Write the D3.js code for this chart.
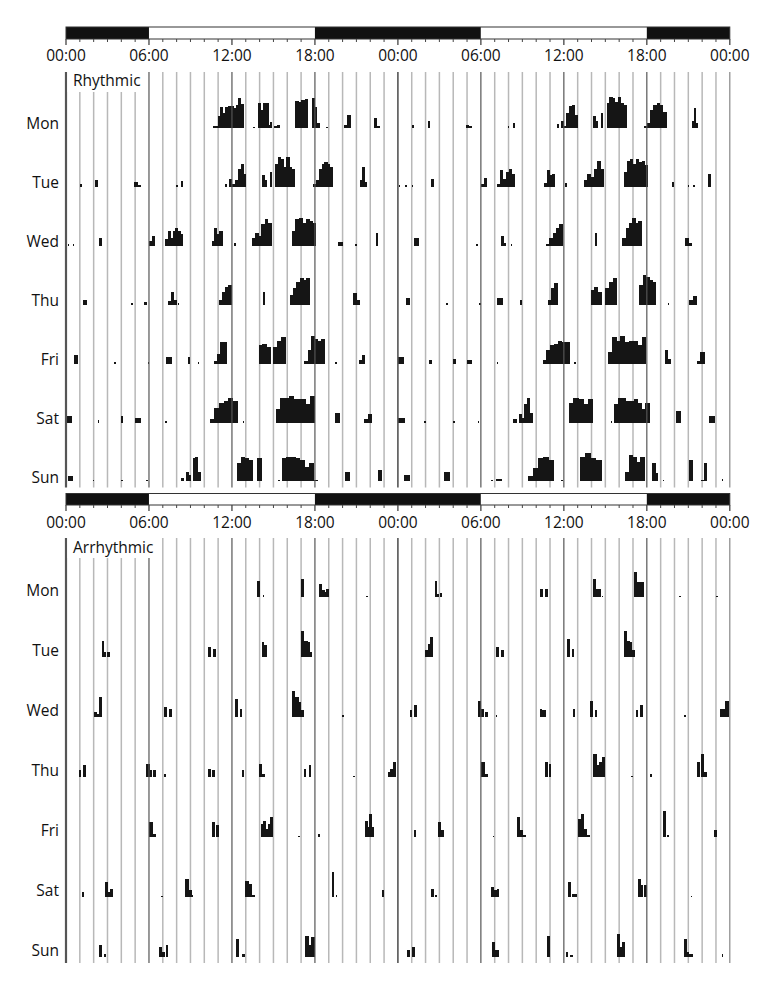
<!DOCTYPE html>
<html>
<head>
<meta charset="utf-8">
<script src="https://cdn.jsdelivr.net/npm/d3@7"></script>
<style>
  html, body { margin: 0; padding: 0; background: #fff; }
  svg { display: block; }
  text { font-family: "Open Sans", "Noto Sans", sans-serif; fill: #111; }
</style>
</head>
<body>
<svg id="chart" width="775" height="991"></svg>
<script>
// ---------------- DATA ----------------
const days = ["Mon", "Tue", "Wed", "Thu", "Fri", "Sat", "Sun"];
const tickLabels = ["00:00", "06:00", "12:00", "18:00", "00:00", "06:00", "12:00", "18:00", "00:00"];
const tickHours = [0, 6, 12, 18, 24, 30, 36, 42, 48];
const panelTitles = ["Rhythmic", "Arrhythmic"];
// light/dark schedule: [start hour, end hour, isDark]
const lightDark = [[0, 6, 1], [6, 18, 0], [18, 30, 1], [30, 42, 0], [42, 48, 1]];

// Activity bouts: [start hour, end hour, counts per equal sub-bin...]
const rMon = [[10.6,12.82,5,5,35,65,45,65,68,68,60,70,92,72],[13.5,13.6,3],[13.9,14.6,75,55,75,75],[14.6,14.85,10,18],[15.05,15.4,6,10],
  [16.58,17.47,82,80,85,88],[17.78,18.3,90,65,15],[18.78,18.88,3],[20.1,20.55,10,40],[22.3,22.65,30,5],
  [25.0,25.1,8],[26.15,26.3,20],[28.9,29.35,10,5],[31.93,32.0,5],[32.3,32.45,15],[35.47,35.6,12],[35.79,36.15,20,5],
  [36.15,37.0,45,68,70,40],[38.1,38.44,35,20],[38.68,38.8,45],[39.09,40.49,75,95,90,80,95,75,70],
  [41.8,43.38,5,15,55,70,75,70,50],[45.26,45.67,20,60,15]];
const rTue = [[1.0,1.1,8],[2.12,2.3,20],[4.94,5.35,15,5],[7.95,8.05,5],[8.3,8.45,18],[11.5,11.62,10],[11.8,11.98,25],[11.98,12.24,8],
  [12.24,13.0,20,55,70,40],[14.17,14.5,35,20],[14.75,14.87,45],[15.13,16.53,70,90,85,60,90,60,55],
  [17.88,19.28,8,20,55,70,75,70,60],[21.25,21.7,20,60,15],
  [24.05,24.12,5],[24.53,24.6,5],[25.0,25.08,5],[26.4,26.55,25],[30.0,30.4,10,28],[31.14,32.44,10,50,25,45,55,40],
  [34.58,35.3,12,50,35,40],[36.1,36.22,12],[37.47,38.85,20,40,30,55,80,55],[40.32,42.05,45,80,85,70,85,75,80,65],
  [43.8,43.95,15],[44.95,45.02,3],[45.35,45.42,3],[46.4,46.6,40]];
const rWed = [[0.12,0.2,3],[0.48,0.55,3],[2.4,2.55,25],[5.98,6.39,15,30],[7.18,8.43,20,45,25,45,55,45,35],[10.53,11.28,15,55,35,45],
  [12.12,12.25,10],[13.45,14.82,25,40,30,65,80,70],[16.34,18.07,45,80,85,70,80,75,70],[19.7,20.0,12],[20.9,20.97,3],[22.4,22.55,40],
  [25.18,25.5,25],[29.64,29.72,5],[31.45,31.8,30,8],[32.17,32.24,3],[34.7,35.9,5,25,40,55,65],[38.22,38.36,40],
  [40.24,41.6,25,55,70,85,70,75],[44.77,45.2,25,10]];
const rThu = [[1.2,1.5,15],[4.7,4.77,3],[5.66,5.78,8],[7.35,8.0,10,40,15],[8.07,8.14,3],[11.04,11.93,15,40,55,60],[14.22,14.36,40],
  [16.2,17.6,30,50,70,80,75,80],[20.77,21.2,35,15],
  [24.6,24.82,20],[27.47,27.55,3],[29.88,29.95,3],[31.2,31.57,20],[32.8,32.92,15],[34.82,35.55,15,50,65],[37.96,38.68,45,55,40],
  [39.0,39.8,50,70,80],[41.45,42.65,60,90,85,75,70],[43.5,43.57,3],[45.07,45.55,15,25]];
const rFri = [[0.6,0.85,25],[3.5,3.58,5],[5.9,5.97,5],[7.23,7.6,20],[8.8,8.92,20],[9.52,9.58,3],[10.72,11.57,8,30,65,65],
  [13.93,14.75,55,60,50],[14.99,15.86,50,70,80],[17.23,18.67,8,40,85,75,70,75],[19.47,19.54,5],[21.2,21.57,10,25],
  [24.0,24.4,20],[26.27,26.4,10],[28.0,28.14,15],[28.97,29.35,10],[31.13,31.2,5],[34.46,36.4,10,40,55,60,70,65,65],[36.75,36.82,3],
  [39.16,41.93,35,80,70,85,65,70,70,55,80],[43.33,43.67,40,15],[45.6,46.15,8,35]];
const rSat = [[0,0.36,20],[2.29,2.36,8],[3.98,4.1,20],[5.0,5.35,15],[7.18,7.25,5],[10.4,12.4,10,45,60,65,75,65],[12.77,12.84,3],
  [15.18,17.95,40,75,75,80,70,70,70,55,80],[19.47,19.76,30],[21.57,22.1,10,25],
  [24.0,24.46,15],[25.91,25.98,3],[28.0,28.07,5],[29.76,29.83,3],[32.34,33.69,10,0,25,15,55,75,30],[36.34,38.08,60,75,70,55,70],
  [39.4,39.47,3],[39.64,42.17,55,75,75,65,65,70,60,40,60],[44.1,44.46,35],[46.51,46.87,20]];
const rSun = [[0.12,0.48,15],[1.93,2.0,3],[3.98,4.05,3],[5.78,5.85,3],[8.31,9.69,10,0,30,20,0,70,75,30],[12.34,14.1,55,75,70,65,0,70],
  [15.33,15.4,3],[15.61,18.2,70,75,75,70,65,45,55,5],[20.19,20.48,30],[22.53,22.84,35],
  [24.46,24.82,20],[27.35,27.72,30],[30.73,30.8,3],[31.09,31.52,8],[33.38,35.23,15,40,70,75,65],[35.79,35.86,3],
  [37.19,38.68,75,85,70,65],[40.44,41.81,30,80,75,60,75],[42.41,42.78,55,25],[43.14,43.21,3],[45.07,45.26,65],
  [45.9,46.32,5,55],[47.43,47.5,8]];

const aMon = [[13.84,14.0,50],[14.22,14.3,5],[17.0,17.15,55],[18.32,19.0,40,20,15,25],[21.72,21.8,3],[26.65,27.15,50,10,0,12],
  [34.3,34.46,25],[34.67,34.8,25],[38.13,38.66,55,25,25],[38.75,38.82,3],[41.04,41.72,75,45,45],[44.33,44.4,3],[47.0,47.07,3]];
const aTue = [[2.6,3.12,50,15,0,15],[10.26,10.41,30],[10.66,10.78,25],[14.15,14.52,45,35,35],[17.0,17.77,80,50,50,45,15],
  [25.97,26.52,20,40,60],[31.09,31.24,30],[31.48,31.6,20],[36.23,36.38,55],[36.6,36.7,25],[40.37,41.1,80,50,45,20]];
const aWed = [[1.99,2.57,15,10,60],[7.1,7.23,30],[7.47,7.6,25],[12.25,12.38,55],[12.56,12.68,25],[16.32,17.15,80,60,60,45,20],
  [19.97,20.04,5],[24.9,25.0,20],[25.2,25.36,35],[29.77,30.17,50,25],[30.32,30.45,15],[31.08,31.15,5],[34.24,34.37,25],
  [34.45,34.67,20],[36.69,36.78,25],[37.92,38.05,50],[38.22,38.35,20],[41.2,41.35,20],[41.53,41.65,35],[44.7,44.77,5],
  [47.26,47.87,25,25,50]];
const aThu = [[0.92,1.04,20],[1.22,1.38,35],[5.82,6.19,40,20],[6.31,6.43,20],[7.1,7.17,8],[10.26,10.41,25],[10.57,10.72,20],
  [12.71,12.8,20],[13.94,14.1,40],[14.15,14.33,10],[17.21,17.34,25],[17.58,17.7,35],[20.77,20.84,3],[23.28,23.83,15,25,45],
  [30.0,30.47,45,10],[34.67,34.78,45],[34.92,35.04,40],[38.13,38.96,70,35,45,60],[40.89,40.96,3],[42.26,42.36,10],
  [45.63,45.79,45],[45.94,46.3,70,15]];
const aFri = [[5.97,6.5,45,10],[10.57,10.72,45],[10.87,11.03,35],[14.09,14.95,40,50,25,40,60],[16.78,16.85,3],[18.22,18.3,8],
  [21.6,22.24,50,30,70,30],[25.2,25.3,20],[26.9,27.26,45,20],[30.87,30.94,3],[32.62,33.02,60,20],[33.08,33.2,5],
  [37.0,37.62,55,70,25],[37.68,37.83,5],[43.19,43.31,80],[43.49,43.56,5],[46.86,47.0,20]];
const aSat = [[1.16,1.29,15],[2.85,3.37,45,15,25],[6.89,6.96,3],[8.64,9.07,55,20],[9.1,9.17,5],[12.92,13.42,50,40],[13.48,13.63,5],
  [19.2,19.36,75],[19.5,19.57,5],[22.82,22.97,20],[26.4,26.55,25],[26.7,26.8,5],[30.72,31.09,30,20],[31.18,31.3,25],
  [36.3,36.45,45],[36.6,36.9,10],[41.35,41.71,55,35],[41.8,41.96,35],[45.16,45.23,3]];
const aSun = [[2.39,2.54,35],[2.76,2.88,8],[6.74,7.1,30,15],[7.2,7.35,35],[12.31,12.47,55],[12.71,12.92,10],[17.3,17.95,65,35,60],
  [24.66,24.81,20],[25.05,25.18,30],[30.78,31.24,45,20],[34.76,34.92,65],[36.14,36.29,15],[36.45,36.6,5],
  [39.82,40.37,70,30,45],[44.66,45.02,55,15],[45.08,45.27,8],[47.4,47.47,8]];

const rhythmicRows = [rMon, rTue, rWed, rThu, rFri, rSat, rSun];
const arrhythmicRows = [aMon, aTue, aWed, aThu, aFri, aSat, aSun];

// ---------------- DRAWING ----------------
const svg = d3.select("#chart");
const x = d3.scaleLinear().domain([0, 48]).range([66, 729.8]);
const h = d3.scaleLinear().domain([0, 100]).range([0, 33]);
const hours = d3.range(0, 49);

const layouts = [
  { barY: 27, barH: 12, labelY: 61, plotTop: 72, plotBottom: 487.5, base0: 128, step: 58.9, titleY: 86, dayDy: -3, rows: rhythmicRows },
  { barY: 493.5, barH: 11.5, labelY: 527.5, plotTop: 538, plotBottom: 963, base0: 597, step: 60, titleY: 553, dayDy: -5, rows: arrhythmicRows }
];

layouts.forEach((L, pi) => {
  const g = svg.append("g");

  // Light/dark bar
  g.selectAll("rect.ld").data(lightDark).join("rect")
    .attr("x", d => x(d[0])).attr("y", L.barY)
    .attr("width", d => x(d[1]) - x(d[0])).attr("height", L.barH)
    .attr("fill", d => d[2] ? "#111" : "#fff");
  g.append("rect").attr("x", x(0)).attr("y", L.barY).attr("width", x(48) - x(0)).attr("height", L.barH)
    .attr("fill", "none").attr("stroke", "#333").attr("stroke-width", 1);

  // hourly ticks under the bar
  g.selectAll("line.tk").data(hours).join("line")
    .attr("x1", d => x(d)).attr("x2", d => x(d))
    .attr("y1", L.barY + L.barH).attr("y2", d => L.barY + L.barH + (d % 6 === 0 ? 6 : 3))
    .attr("stroke", "#444").attr("stroke-width", d => d % 6 === 0 ? 1.3 : 1);

  // tick labels
  g.selectAll("text.tl").data(tickHours).join("text")
    .attr("x", d => x(d)).attr("y", L.labelY)
    .attr("text-anchor", "middle").attr("font-size", 15.5)
    .text((d, i) => tickLabels[i]);

  // minor (hourly) grid lines, under the activity
  const minor = hours.filter(d => d % 6 !== 0);
  g.selectAll("line.minor").data(minor).join("line")
    .attr("x1", d => x(d)).attr("x2", d => x(d))
    .attr("y1", L.plotTop).attr("y2", L.plotBottom)
    .attr("stroke", "#b8b8b8").attr("stroke-width", 1.5);

  // activity bars
  const rowsG = g.append("g").attr("shape-rendering", "crispEdges");
  L.rows.forEach((bouts, ri) => {
    const base = L.base0 + ri * L.step;
    const bars = [];
    bouts.forEach(b => {
      const s = b[0], e = b[1], vals = b.slice(2), n = vals.length, w = (e - s) / n;
      vals.forEach((v, k) => bars.push({ s: s + k * w, e: s + (k + 1) * w, v }));
    });
    rowsG.append("g").selectAll("rect").data(bars.filter(d => d.v > 0)).join("rect")
      .attr("x", d => x(d.s))
      .attr("width", d => Math.max(1.3, x(d.e) - x(d.s) + 0.6))
      .attr("y", d => base - Math.max(1.5, h(d.v)))
      .attr("height", d => Math.max(1.5, h(d.v)))
      .attr("fill", "#151515");
    // day label
    g.append("text").attr("x", 59).attr("y", base + L.dayDy)
      .attr("text-anchor", "end").attr("dominant-baseline", "middle")
      .attr("font-size", 15.5).text(days[ri]);
  });

  // major grid lines (6-hourly), over the activity
  const major = hours.filter(d => d % 6 === 0);
  g.selectAll("line.major").data(major).join("line")
    .attr("x1", d => x(d)).attr("x2", d => x(d))
    .attr("y1", L.plotTop).attr("y2", L.plotBottom)
    .attr("stroke", d => d === 48 ? "#888" : "#555")
    .attr("stroke-width", d => (d === 0) ? 2.2 : (d === 24 ? 1.6 : 1.2));

  // title with white background covering grid
  const t = g.append("text").attr("x", 73).attr("y", L.titleY).attr("font-size", 15.5).text(panelTitles[pi]);
  const bb = t.node().getBBox();
  const right = Math.max(x(6) - 1.5, bb.x + bb.width + 2);
  g.insert("rect", () => t.node()).attr("x", x(0) + 1.5).attr("y", L.plotTop)
    .attr("width", right - x(0) - 1.5).attr("height", 20).attr("fill", "#fff");
});
</script>
</body>
</html>
